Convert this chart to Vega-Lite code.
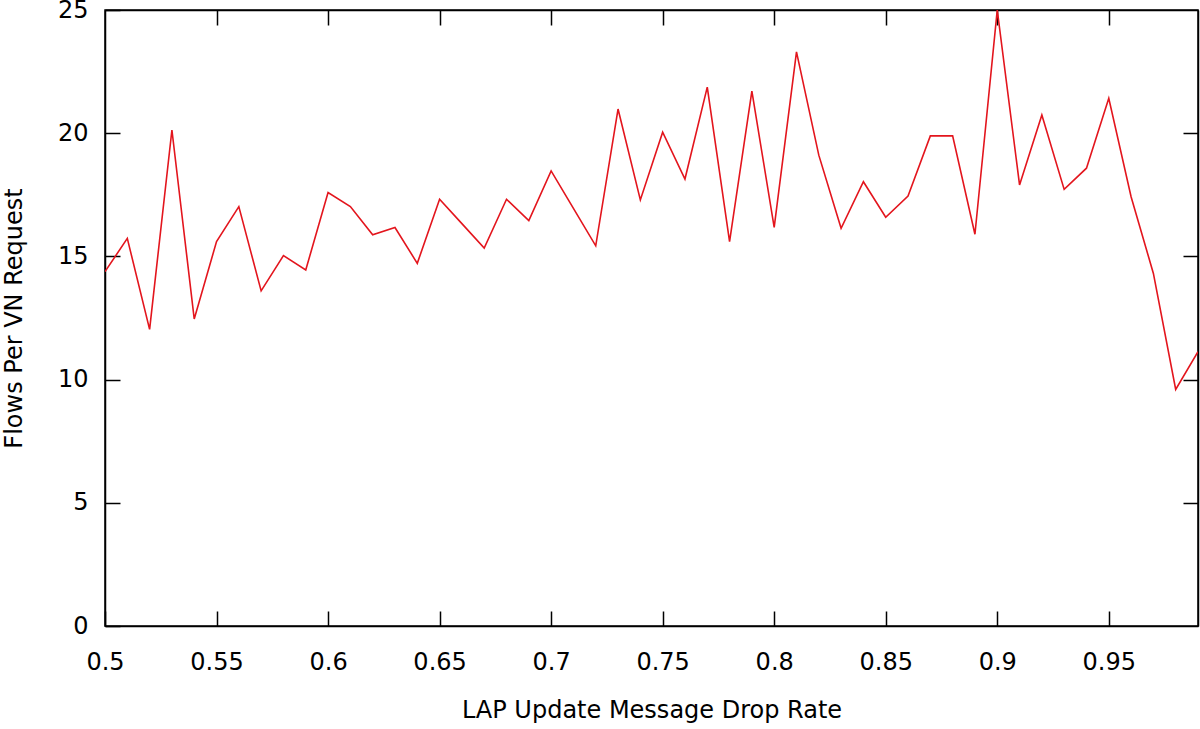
{
  "$schema": "https://vega.github.io/schema/vega-lite/v6.json",
  "width": 1093,
  "height": 616,
  "autosize": {"type": "none"},
  "padding": {"left": 105, "top": 10, "right": 2, "bottom": 103},
  "background": "white",
  "config": {
    "view": {"stroke": "black", "strokeWidth": 1.5},
    "axis": {
      "labelFont": "DejaVu Sans",
      "titleFont": "DejaVu Sans",
      "labelFontSize": 24,
      "titleFontSize": 24,
      "labelColor": "black",
      "titleColor": "black",
      "titleFontWeight": "normal",
      "domainColor": "black",
      "domainWidth": 1.5,
      "tickColor": "black",
      "tickWidth": 1.5,
      "grid": false
    }
  },
  "data": {
    "values": [
      {"rate": 0.50, "flows": 14.38},
      {"rate": 0.51, "flows": 15.73},
      {"rate": 0.52, "flows": 12.04},
      {"rate": 0.53, "flows": 20.13},
      {"rate": 0.54, "flows": 12.46},
      {"rate": 0.55, "flows": 15.6},
      {"rate": 0.56, "flows": 17.02},
      {"rate": 0.57, "flows": 13.6},
      {"rate": 0.58, "flows": 15.03},
      {"rate": 0.59, "flows": 14.45},
      {"rate": 0.60, "flows": 17.59},
      {"rate": 0.61, "flows": 17.02},
      {"rate": 0.62, "flows": 15.88},
      {"rate": 0.63, "flows": 16.17},
      {"rate": 0.64, "flows": 14.72},
      {"rate": 0.65, "flows": 17.32},
      {"rate": 0.66, "flows": 16.33},
      {"rate": 0.67, "flows": 15.34},
      {"rate": 0.68, "flows": 17.32},
      {"rate": 0.69, "flows": 16.45},
      {"rate": 0.70, "flows": 18.47},
      {"rate": 0.71, "flows": 16.95},
      {"rate": 0.72, "flows": 15.43},
      {"rate": 0.73, "flows": 20.98},
      {"rate": 0.74, "flows": 17.29},
      {"rate": 0.75, "flows": 20.04},
      {"rate": 0.76, "flows": 18.14},
      {"rate": 0.77, "flows": 21.87},
      {"rate": 0.78, "flows": 15.6},
      {"rate": 0.79, "flows": 21.71},
      {"rate": 0.80, "flows": 16.18},
      {"rate": 0.81, "flows": 23.3},
      {"rate": 0.82, "flows": 19.11},
      {"rate": 0.83, "flows": 16.14},
      {"rate": 0.84, "flows": 18.03},
      {"rate": 0.85, "flows": 16.59},
      {"rate": 0.86, "flows": 17.45},
      {"rate": 0.87, "flows": 19.89},
      {"rate": 0.88, "flows": 19.89},
      {"rate": 0.89, "flows": 15.9},
      {"rate": 0.90, "flows": 25.0},
      {"rate": 0.91, "flows": 17.9},
      {"rate": 0.92, "flows": 20.74},
      {"rate": 0.93, "flows": 17.72},
      {"rate": 0.94, "flows": 18.58},
      {"rate": 0.95, "flows": 21.42},
      {"rate": 0.96, "flows": 17.42},
      {"rate": 0.97, "flows": 14.31},
      {"rate": 0.98, "flows": 9.6},
      {"rate": 0.99, "flows": 11.13}
    ]
  },
  "layer": [
    {
      "mark": {"type": "line", "color": "#e3151d", "strokeWidth": 1.6, "clip": true},
      "encoding": {
        "x": {
          "field": "rate", "type": "quantitative",
          "scale": {"domain": [0.5, 0.99], "nice": false, "zero": false},
          "axis": {
            "orient": "bottom",
            "title": "LAP Update Message Drop Rate",
            "values": [0.5, 0.55, 0.6, 0.65, 0.7, 0.75, 0.8, 0.85, 0.9, 0.95],
            "format": ".2~f",
            "tickSize": -15,
            "labelPadding": 39,
            "titlePadding": 24,
            "labelFlush": false,
            "labelOverlap": false
          }
        },
        "y": {
          "field": "flows", "type": "quantitative",
          "scale": {"domain": [0, 25], "nice": false},
          "axis": {
            "orient": "left",
            "title": "Flows Per VN Request",
            "values": [0, 5, 10, 15, 20, 25],
            "tickSize": -15,
            "labelPadding": 32,
            "titlePadding": 31,
            "labelFlush": false,
            "labelOverlap": false
          }
        }
      }
    },
    {
      "mark": {"type": "line", "opacity": 0},
      "encoding": {
        "x": {
          "field": "rate", "type": "quantitative",
          "scale": {"domain": [0.5, 0.99], "nice": false, "zero": false},
          "axis": {
            "orient": "top", "title": null, "labels": false,
            "values": [0.55, 0.6, 0.65, 0.7, 0.75, 0.8, 0.85, 0.9, 0.95],
            "tickSize": -15
          }
        },
        "y": {
          "field": "flows", "type": "quantitative",
          "scale": {"domain": [0, 25], "nice": false},
          "axis": {
            "orient": "right", "title": null, "labels": false,
            "values": [5, 10, 15, 20],
            "tickSize": -15
          }
        }
      }
    }
  ],
  "resolve": {"axis": {"x": "independent", "y": "independent"}}
}
